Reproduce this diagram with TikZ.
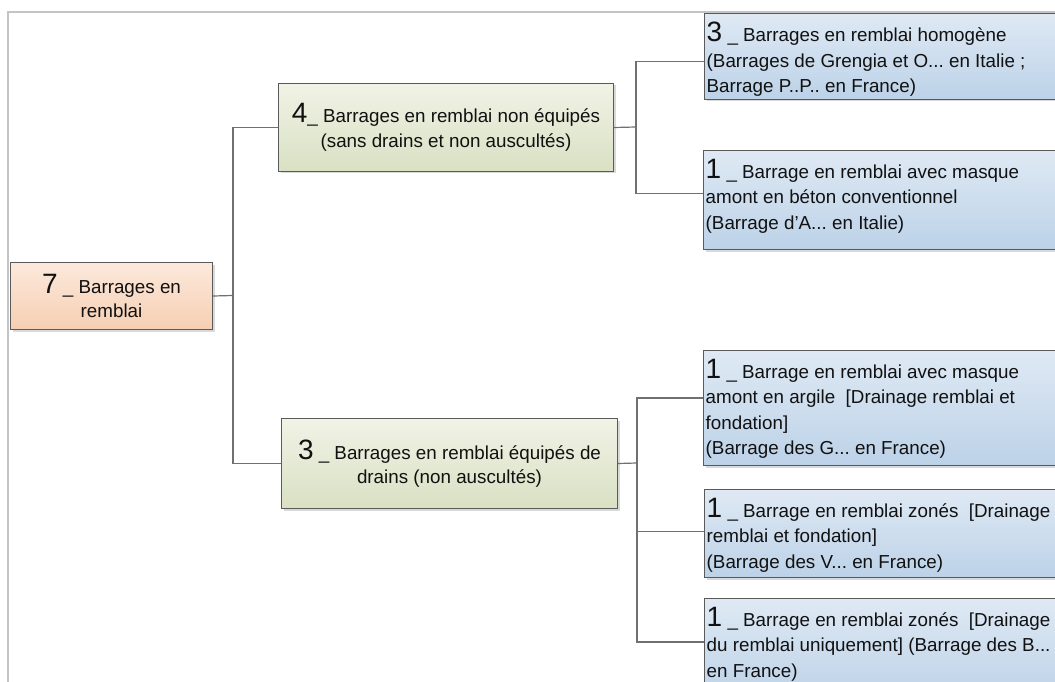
\documentclass[tikz,border=0pt]{standalone}
\usepackage{fontspec}
\setmainfont{Liberation Sans}
\usetikzlibrary{shadows}
\frenchspacing
\definecolor{bluetop}{HTML}{DFE9F4}
\definecolor{bluebot}{HTML}{BCD2E8}
\definecolor{greentop}{HTML}{F1F3E6}
\definecolor{greenbot}{HTML}{D9E0C3}
\definecolor{peachtop}{HTML}{FCE9DC}
\definecolor{peachbot}{HTML}{F6CFB3}
\definecolor{edgec}{HTML}{5A5A5A}
\definecolor{connc}{HTML}{707070}
\definecolor{framec}{HTML}{C4C4C4}
\definecolor{txtc}{HTML}{111111}
\newcommand\dnum[1]{{\fontsize{28}{28}\selectfont #1}}
\tikzset{
  box/.style={draw=edgec, line width=1pt, inner sep=0pt, anchor=north west,
    drop shadow={shadow xshift=2pt, shadow yshift=-2pt, fill=black, opacity=0.15}},
  rootbox/.style={box, top color=peachtop, bottom color=peachbot},
  greenbox/.style={box, top color=greentop, bottom color=greenbot},
  bluebox/.style={box, top color=bluetop, bottom color=bluebot, minimum width=356pt},
  connline/.style={draw=connc, line width=1.2pt},
  ctext/.style={align=center, font=\fontsize{18.8}{24.5}\selectfont\frenchspacing, text=txtc, inner sep=0pt},
  ltext/.style={align=left, font=\fontsize{18.8}{25.5}\selectfont\frenchspacing, text=txtc, inner sep=0pt, anchor=north west},
}
\begin{document}
\begin{tikzpicture}[x=1pt,y=-1pt]
\useasboundingbox (0,0) rectangle (1055,682);
\clip (0,0) rectangle (1055,682);
\fill[white] (0,0) rectangle (1055,682);
% frame
\draw[framec, line width=1.5pt] (8,690) -- (8,12) -- (1060,12);

% boxes
\node[rootbox, minimum width=202pt, minimum height=67pt] (root) at (10,262) {};
\node[greenbox, minimum width=335pt, minimum height=88pt] (g4) at (278,83) {};
\node[greenbox, minimum width=336pt, minimum height=90pt] (g3) at (281,418) {};
\node[bluebox, minimum height=86pt] (b1) at (704,13) {};
\node[bluebox, minimum height=99pt] (b2) at (703,150) {};
\node[bluebox, minimum height=115pt] (b3) at (703,350) {};
\node[bluebox, minimum height=88pt] (b4) at (704,489) {};
\node[bluebox, minimum height=102pt] (b5) at (704,598) {};

% texts
\node[ctext] (troot) at (root.center) {\dnum{7} \_ Barrages en\\remblai};
\node[ctext] (tg4) at (g4.center) {\dnum{4}\_ Barrages en remblai non équipés\\(sans drains et non auscultés)};
\node[ctext] (tg3) at (g3.center) {\dnum{3} \_ Barrages en remblai équipés de\\drains (non auscultés)};
\node[ltext] (tb1) at ([xshift=2.5pt,yshift=-9pt]b1.north west) {\dnum{3} \_ Barrages en remblai homogène\\(Barrages de Grengia et O... en Italie ;\\Barrage P..P.. en France)};
\node[ltext] (tb2) at ([xshift=2.5pt,yshift=-9pt]b2.north west) {\dnum{1} \_ Barrage en remblai avec masque\\amont en béton conventionnel\\(Barrage d’A... en Italie)};
\node[ltext] (tb3) at ([xshift=2.5pt,yshift=-9pt]b3.north west) {\dnum{1} \_ Barrage en remblai avec masque\\amont en argile\ \ [Drainage remblai et\\fondation]\\(Barrage des G... en France)};
\node[ltext] (tb4) at ([xshift=2.5pt,yshift=-9pt]b4.north west) {\dnum{1} \_ Barrage en remblai zonés\ \ [Drainage\\remblai et fondation]\\(Barrage des V... en France)};
\node[ltext] (tb5) at ([xshift=2.5pt,yshift=-9pt]b5.north west) {\dnum{1} \_ Barrage en remblai zonés\ \ [Drainage\\du remblai uniquement] (Barrage des B...\\en France)};

% junction coordinates
\coordinate (j1) at (233,295.5);
\coordinate (j2) at (636,127);
\coordinate (j3) at (637,463);
\coordinate (b1in) at ([yshift=-5pt]b1.west);
\coordinate (b2in) at ([yshift=6.5pt]b2.west);
\coordinate (b3in) at ([yshift=10pt]b3.west);
\coordinate (b4in) at ([yshift=2pt]b4.west);
\coordinate (b5in) at (704,642);

% connectors
\draw[connline] (root.east) -- (j1);
\draw[connline] (g4.west) -| (j1) |- (g3.west);
\draw[connline] (g4.east) -- (j2);
\draw[connline] (b1in) -| (j2) |- (b2in);
\draw[connline] (g3.east) -- (j3);
\draw[connline] (b3in) -| (j3) |- (b5in);
\draw[connline] (j3 |- b4in) -- (b4in);
\end{tikzpicture}
\end{document}
